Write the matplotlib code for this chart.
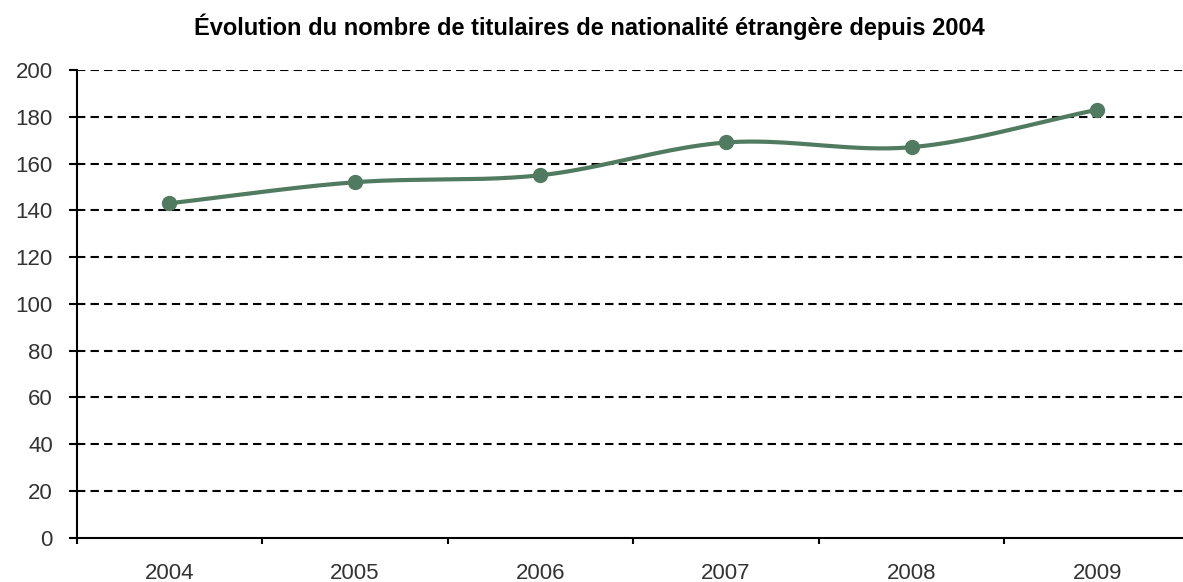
import numpy as np
import matplotlib
matplotlib.use("Agg")
from matplotlib import pyplot as plt

# data
years = ["2004", "2005", "2006", "2007", "2008", "2009"]
titulaires = [143, 152, 155, 169, 167, 183]
y_ticks = [0, 20, 40, 60, 80, 100, 120, 140, 160, 180, 200]

GREEN = "#517b60"


def smooth(xs, ys, n=40):
    # excel style smoothed line (catmull-rom through the points)
    xs = np.asarray(xs, float)
    ys = np.asarray(ys, float)
    px = np.concatenate([[2 * xs[0] - xs[1]], xs, [2 * xs[-1] - xs[-2]]])
    py = np.concatenate([[2 * ys[0] - ys[1]], ys, [2 * ys[-1] - ys[-2]]])
    outx, outy = [], []
    t = np.linspace(0, 1, n)
    for i in range(1, len(px) - 2):
        for p, out in ((px, outx), (py, outy)):
            p0, p1, p2, p3 = p[i - 1], p[i], p[i + 1], p[i + 2]
            c1 = p1 + (p2 - p0) / 6
            c2 = p2 - (p3 - p1) / 6
            b = ((1 - t) ** 3) * p1 + 3 * ((1 - t) ** 2) * t * c1 + 3 * (1 - t) * t ** 2 * c2 + t ** 3 * p2
            out.extend(b)
    return np.array(outx), np.array(outy)


plt.rcParams["font.family"] = ["Liberation Sans", "DejaVu Sans"]

fig = plt.figure(figsize=(11.83, 5.82), dpi=100)
W, H = 1183, 582
ax = fig.add_axes([76.5 / W, (H - 537.7) / H, (1190 - 76.5) / W, (537.7 - 70) / H])

xpos = np.arange(len(years)) + 0.5
sx, sy = smooth(xpos, titulaires)
ax.plot(sx, sy, color=GREEN, lw=3, solid_capstyle="round", zorder=3)
ax.plot(xpos, titulaires, "o", color=GREEN, ms=10, zorder=4)

ax.set_xlim(0, len(years))
ax.set_ylim(0, 200)
ax.set_yticks(y_ticks)
ax.set_yticklabels([str(v) for v in y_ticks], fontsize=16, color="#333333")
for v in y_ticks[1:]:
    ax.axhline(v, color="black", lw=1.5, ls=(0, (4, 2.5)), zorder=1)

ax.set_xticks(np.arange(len(years) + 1))
ax.set_xticklabels([])
ax.set_xticks(xpos, minor=True)
ax.set_xticklabels(years, minor=True, fontsize=16, color="#333333")
ax.tick_params(axis="x", which="major", direction="out", length=4.5, width=1.5, color="black")
ax.tick_params(axis="x", which="minor", length=0, pad=18)
ax.tick_params(axis="y", direction="out", length=6, width=1.5, color="black", pad=11)

for s in ["top", "right"]:
    ax.spines[s].set_visible(False)
for s in ["left", "bottom"]:
    ax.spines[s].set_linewidth(1.5)
    ax.spines[s].set_color("black")

fig.text(589 / W, 1 - 35 / H, "Évolution du nombre de titulaires de nationalité étrangère depuis 2004",
         ha="center", va="baseline", fontsize=17, fontweight="bold", color="black")

fig.savefig("out.png", dpi=100)
